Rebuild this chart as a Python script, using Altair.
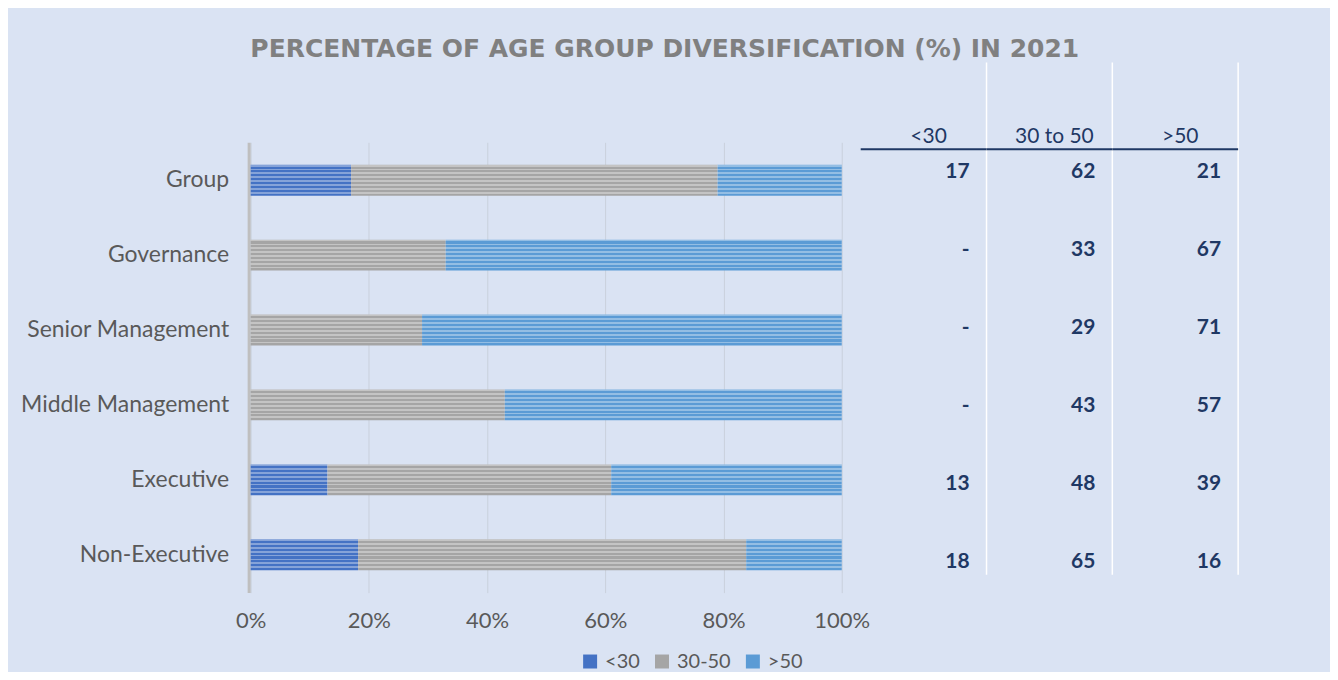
import altair as alt
import pandas as pd

categories = ["Group", "Governance", "Senior Management", "Middle Management", "Executive", "Non-Executive"]
series = ["<30", "30-50", ">50"]
headers = ["<30", "30 to 50", ">50"]
under30 = [17, 0, 0, 0, 13, 18]
mid30_50 = [62, 33, 29, 43, 48, 65]
over50 = [21, 67, 71, 57, 39, 16]
tick_values = [0, 0.2, 0.4, 0.6, 0.8, 1.0]

colors = ["#4472C4", "#A5A5A5", "#5B9BD5"]
navy = "#1F3864"
bg = "#DAE3F3"
FONT = "Lato"

rows = []
for i, c in enumerate(categories):
    for j, (s, vals) in enumerate(zip(series, [under30, mid30_50, over50])):
        v = vals[i]
        rows.append({"category": c, "series": s, "order": j, "value": v,
                     "col": j, "label": "-" if v == 0 else str(v)})
df = pd.DataFrame(rows)
hdr = pd.DataFrame({"col": [0, 1, 2], "header": headers})
bounds = pd.DataFrame({"b": [1, 2, 3]})

# translucent horizontal stripes drawn over the bars
stops = []
n = 8
for k in range(n):
    a = k / n
    b = (k + 0.45) / n
    e = (k + 1) / n
    stops += [
        alt.GradientStop(offset=a, color="rgba(255,255,255,0.35)"),
        alt.GradientStop(offset=b, color="rgba(255,255,255,0.35)"),
        alt.GradientStop(offset=b, color="rgba(255,255,255,0)"),
        alt.GradientStop(offset=e, color="rgba(255,255,255,0)"),
    ]
stripe = alt.Gradient(gradient="linear", stops=stops, x1=0, x2=0, y1=0, y2=1)

W, H = 592, 451
ysc = alt.Scale(domain=categories, paddingInner=0.588, paddingOuter=0.3)

xenc = alt.X("value:Q", stack="normalize", title=None,
             scale=alt.Scale(domain=[0, 1], nice=False),
             axis=alt.Axis(format="%", values=tick_values, grid=True, domain=False, ticks=False,
                           gridColor="#C9D0DC", gridWidth=1, labelFontSize=22, labelColor="#595959",
                           labelFont=FONT, labelPadding=18, labelFlush=False))
yenc = alt.Y("category:N", sort=categories, title=None, scale=ysc,
             axis=alt.Axis(ticks=False, domainColor="#BFBFBF", domainWidth=3, labelFontSize=23,
                           labelColor="#595959", labelFont=FONT, labelPadding=20, offset=2,
                           labelLimit=400))

base = alt.Chart(df)
bars = base.mark_bar(strokeWidth=0).encode(
    x=xenc, y=yenc,
    color=alt.Color("series:N", scale=alt.Scale(domain=series, range=colors), title=None,
                    legend=alt.Legend(orient="none", legendX=330, legendY=510, direction="horizontal",
                                      symbolType="square", symbolSize=196, symbolStrokeWidth=0,
                                      labelFontSize=20, labelColor="#595959", labelFont=FONT,
                                      columnPadding=12, labelOffset=5)),
    order=alt.Order("order:Q"),
)
overlay = base.mark_bar(color=stripe, strokeWidth=0).encode(
    x=alt.X("value:Q", stack="normalize"), y=alt.Y("category:N", sort=categories),
    detail="series:N", order=alt.Order("order:Q"),
)
left = alt.layer(bars, overlay).properties(width=W, height=H)

tx = alt.Scale(domain=[0, 3], nice=False)
ty = alt.Scale(type="point", domain=categories, range=[30, 420], padding=0)
vlines = alt.Chart(bounds).mark_rule(color="white", strokeWidth=1.5).encode(
    x=alt.X("b:Q", scale=tx, axis=None), y=alt.value(-80), y2=alt.value(433))
hline = alt.Chart(hdr).mark_rule(color=navy, strokeWidth=2).encode(
    x=alt.X("col:Q", scale=tx, axis=None), x2="c2:Q", y=alt.value(7)).transform_calculate(c2="datum.col + 1")
htext = alt.Chart(hdr).mark_text(fontSize=21, font=FONT, color=navy, baseline="alphabetic", dx=5).encode(
    x=alt.X("c:Q", scale=tx, axis=None), y=alt.value(1), text="header:N").transform_calculate(c="datum.col + 0.5")
vtext = alt.Chart(df).mark_text(fontSize=21, font=FONT, fontWeight="bold", color=navy, align="right",
                                baseline="middle", dx=-17).encode(
    x=alt.X("c:Q", scale=tx, axis=None), y=alt.Y("category:N", scale=ty, axis=None),
    text="label:N").transform_calculate(c="datum.col + 1")
table = alt.layer(vlines, hline, htext, vtext).properties(width=378, height=H)

chart = alt.hconcat(left, table, spacing=19, bounds="flush").resolve_scale(y="independent").properties(
    title=alt.TitleParams("PERCENTAGE OF AGE GROUP DIVERSIFICATION (%) IN 2021", font="DejaVu Sans",
                          fontSize=25, fontWeight="bold", color="#808080", anchor="middle", dx=35, offset=0),
    background=bg, padding={"left": 12, "top": 28, "right": 91, "bottom": 0},
).configure_view(stroke=None)

chart.save("out.html", embed_options={"renderer": "svg", "actions": False})
